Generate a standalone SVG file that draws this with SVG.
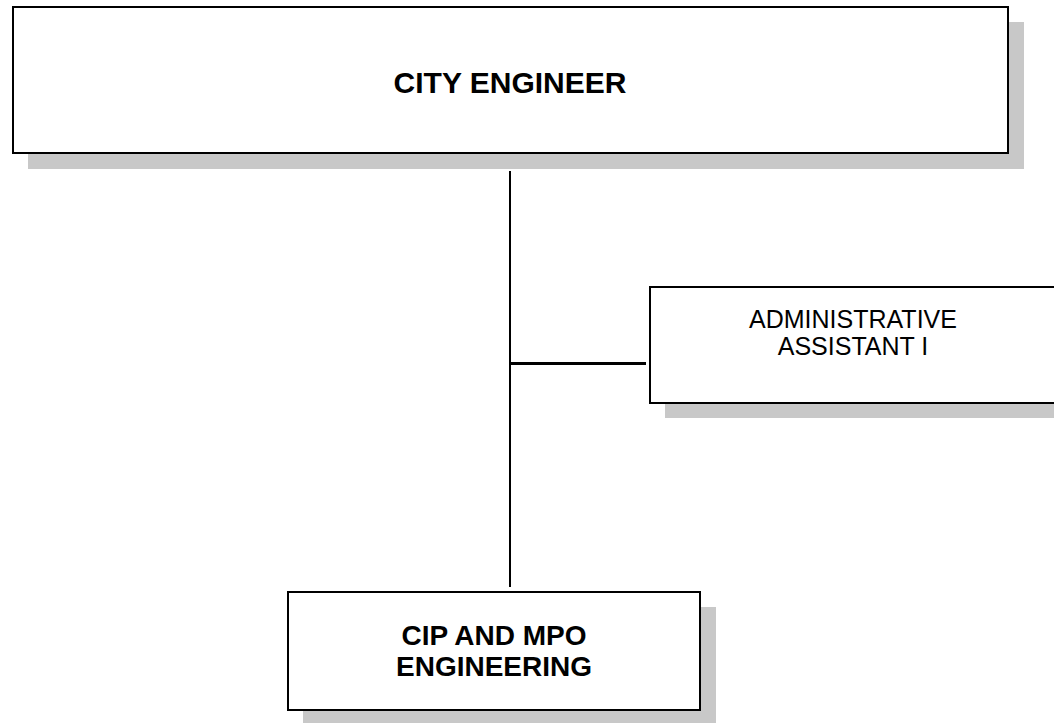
<svg xmlns="http://www.w3.org/2000/svg" width="1054" height="723" viewBox="0 0 1054 723">
  <style>
    .shadow { fill: #c8c8c8; }
    .box { fill: #ffffff; stroke: #000000; stroke-width: 2; }
    .bold { font-family: "Liberation Sans", Arial, sans-serif; font-weight: bold; fill: #000; text-anchor: middle; }
    .reg { font-family: "Liberation Sans", Arial, sans-serif; fill: #000; text-anchor: middle; }
    .line { stroke: #000000; fill: none; }
  </style>
  <rect width="1054" height="723" fill="#ffffff"/>

  <g id="connectors">
    <line class="line" x1="510" y1="171" x2="510" y2="587" stroke-width="2"/>
    <line class="line" x1="510" y1="363.5" x2="646" y2="363.5" stroke-width="3"/>
  </g>

  <g id="city-engineer">
    <rect class="shadow" x="28" y="22" width="996" height="147"/>
    <rect class="box" x="13" y="7" width="995" height="146"/>
    <text class="bold" x="510" y="93" font-size="30">CITY ENGINEER</text>
  </g>

  <g id="administrative-assistant">
    <rect class="shadow" x="665" y="302" width="400" height="116"/>
    <rect class="box" x="650" y="287" width="406" height="116"/>
    <text class="reg" x="853" y="328" font-size="25">ADMINISTRATIVE</text>
    <text class="reg" x="853" y="355" font-size="25">ASSISTANT I</text>
  </g>

  <g id="cip-mpo-engineering">
    <rect class="shadow" x="303" y="607" width="413" height="116"/>
    <rect class="box" x="288" y="592" width="412" height="118"/>
    <text class="bold" x="494" y="645" font-size="28">CIP AND MPO</text>
    <text class="bold" x="494" y="676" font-size="28">ENGINEERING</text>
  </g>
</svg>
